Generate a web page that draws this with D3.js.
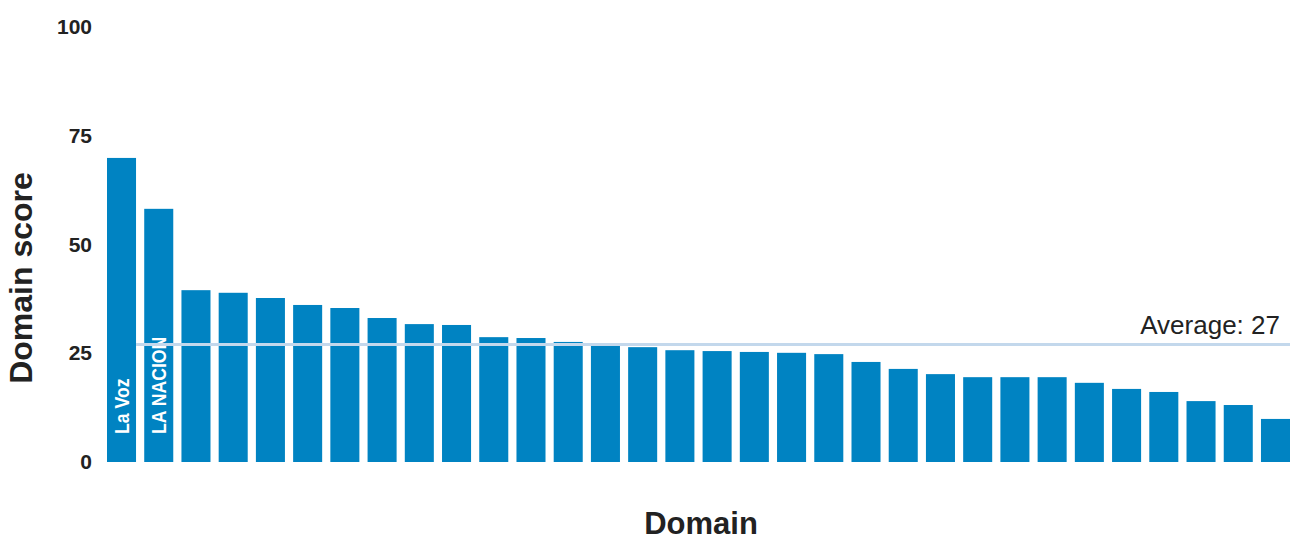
<!DOCTYPE html>
<html>
<head>
<meta charset="utf-8">
<script src="https://cdn.jsdelivr.net/npm/d3@7"></script>
<style>
  html, body { margin: 0; padding: 0; background: #fff; }
  svg { display: block; }
</style>
</head>
<body>
<div id="chart"></div>
<script>
(function () {
  'use strict';

  /* ── Data ── */
  var domains = d3.range(1, 33).map(function (i) { return 'd' + i; });
  var barLabels = ['La Voz', 'LA NACION'];
  var scores = [
    69.9, 58.2, 39.5, 38.9, 37.7, 36.1, 35.4, 33.1, 31.7, 31.5,
    28.7, 28.5, 27.6, 26.9, 26.4, 25.7, 25.5, 25.3, 25.1, 24.8,
    23.0, 21.4, 20.2, 19.5, 19.5, 19.5, 18.2, 16.8, 16.1, 14.0,
    13.1, 9.9
  ];
  var yTicks = [0, 25, 50, 75, 100];
  var average = 27;

  var W = 1298, H = 541;
  var ink = '#222222';

  var svg = d3.select('#chart').append('svg')
    .attr('width', W).attr('height', H);

  /* ── Scales ── */
  var x = d3.scaleBand()
    .domain(domains)
    .range([107, 1290])
    .paddingInner(0.22)
    .paddingOuter(0);

  var y = d3.scaleLinear()
    .domain([0, 100])
    .range([462, 27]);

  /* ── Y axis (labels only) ── */
  var yAxis = svg.append('g')
    .attr('transform', 'translate(92,0)')
    .call(d3.axisLeft(y).tickValues(yTicks).tickSize(0).tickPadding(0));
  yAxis.select('.domain').remove();
  yAxis.selectAll('text')
    .attr('font-family', '"Liberation Sans", Arial, sans-serif')
    .attr('font-weight', 'bold')
    .attr('font-size', 21)
    .attr('fill', ink);

  /* ── Bars ── */
  svg.append('g')
    .selectAll('rect')
    .data(scores)
    .join('rect')
    .attr('x', function (d, i) { return x(domains[i]); })
    .attr('y', function (d) { return y(d); })
    .attr('width', x.bandwidth())
    .attr('height', function (d) { return y(0) - y(d); })
    .attr('fill', '#0083c2');

  /* ── Bar labels (condensed by squeezing along the text direction) ── */
  svg.append('g')
    .selectAll('text')
    .data(barLabels)
    .join('text')
    .attr('transform', function (d, i) {
      var cx = x(domains[i]) + x.bandwidth() / 2 + 7.5;
      return 'translate(' + cx + ',' + (y(0) - 28) + ') rotate(-90) scale(0.84,1)';
    })
    .attr('font-family', '"Liberation Sans", Arial, sans-serif')
    .attr('font-weight', 'bold')
    .attr('font-size', 21)
    .attr('fill', '#ffffff')
    .text(function (d) { return d; });

  /* ── Average line ── */
  svg.append('line')
    .attr('x1', x(domains[0]) + x.bandwidth())
    .attr('x2', x.range()[1])
    .attr('y1', y(average))
    .attr('y2', y(average))
    .attr('stroke', '#c3d8ec')
    .attr('stroke-width', 3);

  svg.append('text')
    .attr('x', 1280)
    .attr('y', y(average) - 11)
    .attr('text-anchor', 'end')
    .attr('font-family', '"Liberation Sans", Arial, sans-serif')
    .attr('font-size', 26)
    .attr('fill', ink)
    .text('Average: ' + average);

  /* ── Axis titles ── */
  svg.append('text')
    .attr('transform', 'translate(32,278) rotate(-90)')
    .attr('text-anchor', 'middle')
    .attr('font-family', '"Liberation Sans", Arial, sans-serif')
    .attr('font-weight', 'bold')
    .attr('font-size', 32)
    .attr('fill', ink)
    .text('Domain score');

  svg.append('text')
    .attr('x', 701)
    .attr('y', 534)
    .attr('text-anchor', 'middle')
    .attr('font-family', '"Liberation Sans", Arial, sans-serif')
    .attr('font-weight', 'bold')
    .attr('font-size', 31)
    .attr('fill', ink)
    .text('Domain');
})();
</script>
</body>
</html>
